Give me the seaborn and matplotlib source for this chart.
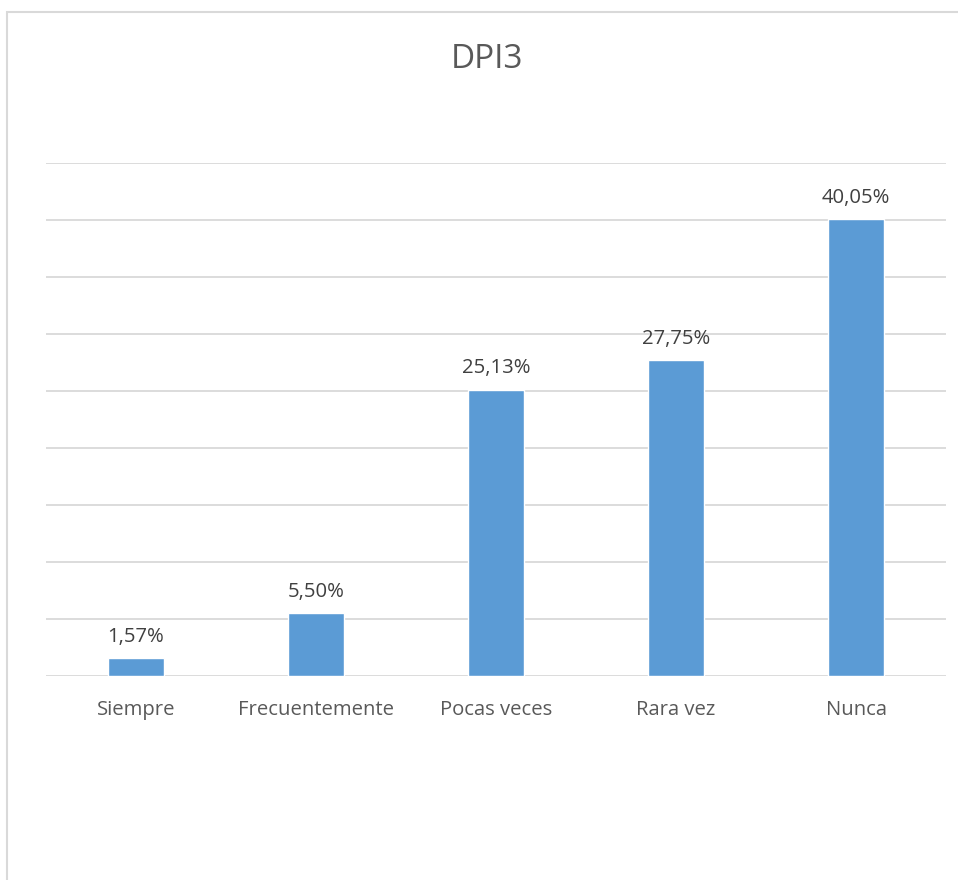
import matplotlib
matplotlib.use("Agg")
import matplotlib.pyplot as plt
import matplotlib.patches as mpatches
import seaborn as sns
import pandas as pd

# data
categorias = ["Siempre", "Frecuentemente", "Pocas veces", "Rara vez", "Nunca"]
porcentajes = [1.57, 5.50, 25.13, 27.75, 40.05]
titulo = "DPI3"

df = pd.DataFrame({"cat": categorias, "pct": porcentajes})

sns.set_style("white")
plt.rcParams["font.family"] = ["Open Sans", "DejaVu Sans"]

W, H = 958, 880
fig = plt.figure(figsize=(W / 100, H / 100), dpi=100)
ax = fig.add_axes([46 / W, (H - 676) / H, 900 / W, (676 - 163) / H])

sns.barplot(data=df, x="cat", y="pct", color="#5b9bd5", width=0.31,
            saturation=1, ax=ax)

ax.set_ylim(0, 45)
ax.set_xlim(-0.5, 4.5)
ax.set_yticks(range(0, 50, 5))
ax.yaxis.grid(True, color="#d9d9d9", lw=1.3)
ax.set_axisbelow(True)
ax.tick_params(axis="y", left=False, labelleft=False)
ax.tick_params(axis="x", bottom=False, pad=14, labelsize=14.6, labelcolor="#595959")
for s in ["top", "right", "left", "bottom"]:
    ax.spines[s].set_visible(False)
ax.set_xlabel("")
ax.set_ylabel("")

etiquetas = [f"{v:.2f}%".replace(".", ",") for v in porcentajes]
ax.bar_label(ax.containers[0], labels=etiquetas, padding=8, fontsize=14.6,
             color="#404040")

fig.text(487 / W, 1 - 59 / H, titulo, ha="center", va="center",
         fontsize=24, color="#595959")

# chart area border (only top and left visible in the crop)
borde = mpatches.Rectangle((7 / W, -0.1), 1.2, 1 - 12 / H + 0.1,
                           transform=fig.transFigure, fill=False,
                           edgecolor="#d9d9d9", lw=1.5)
fig.patches.append(borde)

fig.savefig("out.png", dpi=100)
